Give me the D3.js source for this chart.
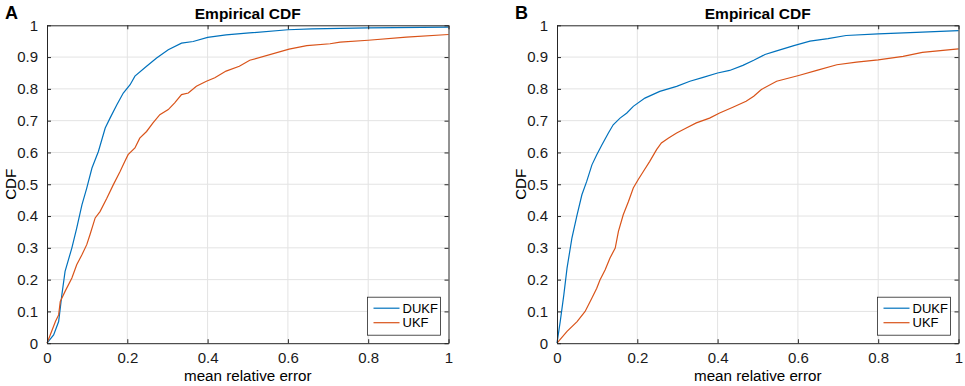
<!DOCTYPE html>
<html>
<head>
<meta charset="utf-8">
<script src="https://cdn.jsdelivr.net/npm/d3@7"></script>
<style>
  body { margin: 0; background: #fff; }
  svg { font-family: "Liberation Sans", Arial, sans-serif; }
</style>
</head>
<body>
<div id="chart"></div>
<script>
// Panel A: empirical CDF points
const dukfA_err = [0, 0.0165, 0.029, 0.037, 0.045, 0.062, 0.074, 0.087, 0.099, 0.112, 0.128, 0.145, 0.157, 0.174, 0.19, 0.207, 0.219, 0.248, 0.273, 0.302, 0.335, 0.364, 0.40, 0.446, 0.504, 0.6, 0.66, 0.8, 1.0];
const dukfA_cdf = [0, 0.026, 0.068, 0.152, 0.226, 0.30, 0.362, 0.435, 0.488, 0.551, 0.603, 0.677, 0.708, 0.750, 0.787, 0.813, 0.840, 0.871, 0.897, 0.923, 0.944, 0.949, 0.962, 0.970, 0.976, 0.986, 0.989, 0.992, 0.994];
const ukfA_err = [0, 0.008, 0.021, 0.029, 0.033, 0.045, 0.062, 0.074, 0.087, 0.099, 0.107, 0.12, 0.132, 0.149, 0.165, 0.182, 0.194, 0.202, 0.219, 0.231, 0.248, 0.264, 0.281, 0.302, 0.318, 0.335, 0.352, 0.372, 0.397, 0.418, 0.446, 0.479, 0.505, 0.603, 0.647, 0.705, 0.73, 0.80, 0.895, 1.0];
const ukfA_cdf = [0, 0.026, 0.068, 0.089, 0.131, 0.163, 0.205, 0.247, 0.278, 0.31, 0.341, 0.394, 0.414, 0.456, 0.498, 0.54, 0.572, 0.593, 0.614, 0.645, 0.666, 0.693, 0.719, 0.735, 0.756, 0.782, 0.787, 0.808, 0.824, 0.835, 0.856, 0.871, 0.89, 0.925, 0.936, 0.942, 0.947, 0.953, 0.963, 0.971];

// Panel B
const dukfB_err = [0, 0.008, 0.017, 0.025, 0.037, 0.05, 0.062, 0.074, 0.087, 0.099, 0.112, 0.128, 0.14, 0.157, 0.174, 0.19, 0.219, 0.256, 0.298, 0.331, 0.364, 0.40, 0.43, 0.463, 0.49, 0.518, 0.543, 0.59, 0.63, 0.675, 0.72, 0.80, 0.895, 1.0];
const dukfB_cdf = [0, 0.068, 0.152, 0.236, 0.33, 0.404, 0.467, 0.509, 0.561, 0.593, 0.624, 0.661, 0.687, 0.708, 0.724, 0.745, 0.771, 0.792, 0.808, 0.824, 0.836, 0.85, 0.858, 0.874, 0.89, 0.908, 0.918, 0.936, 0.95, 0.958, 0.968, 0.973, 0.978, 0.983];
const ukfB_err = [0, 0.025, 0.05, 0.07, 0.087, 0.099, 0.107, 0.12, 0.132, 0.145, 0.153, 0.165, 0.178, 0.19, 0.202, 0.215, 0.231, 0.248, 0.26, 0.277, 0.298, 0.322, 0.347, 0.38, 0.405, 0.438, 0.471, 0.49, 0.509, 0.547, 0.602, 0.647, 0.697, 0.746, 0.80, 0.862, 0.91, 1.0];
const ukfB_cdf = [0, 0.037, 0.068, 0.10, 0.142, 0.173, 0.199, 0.231, 0.268, 0.299, 0.352, 0.404, 0.446, 0.488, 0.514, 0.54, 0.572, 0.609, 0.63, 0.645, 0.661, 0.677, 0.693, 0.708, 0.724, 0.742, 0.761, 0.777, 0.798, 0.824, 0.842, 0.858, 0.876, 0.884, 0.891, 0.902, 0.915, 0.926];

const seriesNames = ["DUKF", "UKF"];
const seriesColors = ["#0072BD", "#D95319"];
const xTicks = [0, 0.2, 0.4, 0.6, 0.8, 1];
const yTicks = [0, 0.1, 0.2, 0.3, 0.4, 0.5, 0.6, 0.7, 0.8, 0.9, 1];

const width = 965, height = 386;
const svg = d3.select("#chart").append("svg")
    .attr("width", width)
    .attr("height", height);

function zip(xs, ys) {
    return xs.map((x, i) => [x, ys[i]]);
}

const panels = [
    { label: "A", left: 47, series: [zip(dukfA_err, dukfA_cdf), zip(ukfA_err, ukfA_cdf)] },
    { label: "B", left: 557, series: [zip(dukfB_err, dukfB_cdf), zip(ukfB_err, ukfB_cdf)] }
];

const plotTop = 25.3, plotBottom = 343.2, plotW = 401.5;
const axisColor = "#262626";

panels.forEach(function (p) {
    const x = d3.scaleLinear().domain([0, 1]).range([p.left, p.left + plotW]);
    const y = d3.scaleLinear().domain([0, 1]).range([plotBottom, plotTop]);
    const g = svg.append("g");

    // grid lines
    g.selectAll(".gx").data(xTicks.slice(1, -1)).enter().append("line")
        .attr("x1", d => x(d)).attr("x2", d => x(d))
        .attr("y1", plotTop).attr("y2", plotBottom)
        .attr("stroke", "#e3e3e3").attr("stroke-width", 1);
    g.selectAll(".gy").data(yTicks.slice(1, -1)).enter().append("line")
        .attr("y1", d => y(d)).attr("y2", d => y(d))
        .attr("x1", p.left).attr("x2", p.left + plotW)
        .attr("stroke", "#e3e3e3").attr("stroke-width", 1);

    // curves
    const line = d3.line().x(d => x(d[0])).y(d => y(d[1]));
    p.series.forEach(function (s, i) {
        g.append("path")
            .datum(s)
            .attr("d", line)
            .attr("fill", "none")
            .attr("stroke", seriesColors[i])
            .attr("stroke-width", 1.2);
    });

    // axes, ticks inside on all four sides
    const tl = 4;
    g.append("g").attr("transform", `translate(0,${plotBottom})`)
        .call(d3.axisBottom(x).tickValues(xTicks).tickSizeInner(-tl).tickSizeOuter(0).tickPadding(9).tickFormat(d3.format("~g")));
    g.append("g").attr("transform", `translate(0,${plotTop})`)
        .call(d3.axisTop(x).tickValues(xTicks).tickSizeInner(-tl).tickSizeOuter(0).tickFormat(""));
    g.append("g").attr("transform", `translate(${p.left},0)`)
        .call(d3.axisLeft(y).tickValues(yTicks).tickSizeInner(-tl).tickSizeOuter(0).tickPadding(9).tickFormat(d3.format("~g")));
    g.append("g").attr("transform", `translate(${p.left + plotW},0)`)
        .call(d3.axisRight(y).tickValues(yTicks).tickSizeInner(-tl).tickSizeOuter(0).tickFormat(""));
    g.selectAll(".domain").attr("stroke", axisColor);
    g.selectAll(".tick line").attr("stroke", axisColor);
    g.selectAll(".tick text")
        .attr("fill", "#1a1a1a")
        .style("font-size", "15px")
        .style("font-family", "'Liberation Sans', Arial, sans-serif");

    // titles
    g.append("text")
        .attr("x", p.left + plotW / 2).attr("y", 19)
        .attr("text-anchor", "middle")
        .style("font-size", "15.5px").style("font-weight", "bold")
        .text("Empirical CDF");
    g.append("text")
        .attr("x", p.left + plotW / 2).attr("y", 381)
        .attr("text-anchor", "middle")
        .style("font-size", "15.2px")
        .text("mean relative error");
    g.append("text")
        .attr("transform", `translate(${p.left - 31},${(plotTop + plotBottom) / 2}) rotate(-90)`)
        .attr("text-anchor", "middle")
        .style("font-size", "15.2px")
        .text("CDF");
    g.append("text")
        .attr("x", p.left - 42).attr("y", 19)
        .style("font-size", "18px").style("font-weight", "bold")
        .text(p.label);

    // legend
    const lw = 73, lh = 38;
    const lx = p.left + plotW - 8 - lw, ly = plotBottom - 8 - lh;
    const leg = g.append("g").attr("transform", `translate(${lx},${ly})`);
    leg.append("rect")
        .attr("width", lw).attr("height", lh)
        .attr("fill", "#fff").attr("stroke", "#262626").attr("stroke-width", 0.8);
    seriesNames.forEach(function (name, i) {
        const yy = 11 + i * 14.5;
        leg.append("line")
            .attr("x1", 6).attr("x2", 32).attr("y1", yy).attr("y2", yy)
            .attr("stroke", seriesColors[i]).attr("stroke-width", 1.2);
        leg.append("text")
            .attr("x", 35).attr("y", yy + 4.5)
            .style("font-size", "13px")
            .text(name);
    });
});
</script>
</body>
</html>
